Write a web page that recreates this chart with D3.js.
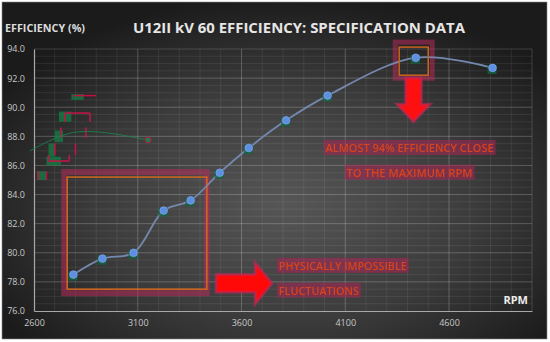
<!DOCTYPE html>
<html>
<head>
<meta charset="utf-8">
<script src="https://cdn.jsdelivr.net/npm/d3@7"></script>
<style>
  html, body { margin: 0; padding: 0; background: #fff; }
  #chart { width: 550px; height: 342px; }
  text { font-family: "Open Sans", "Liberation Sans", sans-serif; }
</style>
</head>
<body>
<div id="chart"></div>
<script>
// Specification data
const rpm = [2790, 2930, 3080, 3225, 3355, 3495, 3635, 3815, 4015, 4440, 4810];
const efficiency = [78.5, 79.6, 80.0, 82.9, 83.6, 85.5, 87.2, 89.1, 90.8, 93.4, 92.7];
const xTicks = [2600, 3100, 3600, 4100, 4600];
const yTicks = [76, 78, 80, 82, 84, 86, 88, 90, 92, 94];

// Annotation callouts (data units)
const noteLines = [
  { rpm: 4410, eff: 87.2, text: "ALMOST 94% EFFICIENCY CLOSE", len: 168 },
  { rpm: 4410, eff: 85.5, text: "TO THE MAXIMUM RPM", len: 126 }
];
const noteLines2 = [
  { rpm: 3780, eff: 79.1, text: "PHYSICALLY IMPOSSIBLE", len: 128 },
  { rpm: 3780, eff: 77.4, text: "FLUCTUATIONS", len: 80 }
];

const W = 550, H = 342;
const margin = { top: 49, right: 18, bottom: 31, left: 34 };
const width = W - margin.left - margin.right;
const height = H - margin.top - margin.bottom;

const svg = d3.select('#chart').append('svg')
  .attr('width', W).attr('height', H);

// Background panel
const defs = svg.append('defs');
const grad = defs.append('radialGradient').attr('id', 'bg')
  .attr('cx', '52%').attr('cy', '60%').attr('r', '62%');
grad.append('stop').attr('offset', '0%').attr('stop-color', '#565656');
grad.append('stop').attr('offset', '55%').attr('stop-color', '#3c3c3c');
grad.append('stop').attr('offset', '100%').attr('stop-color', '#1b1b1b');
const blur = defs.append('filter').attr('id', 'soft');
blur.append('feGaussianBlur').attr('stdDeviation', 0.6);

svg.append('rect').attr('x', 2).attr('y', 2).attr('width', 545).attr('height', 337)
  .attr('fill', 'url(#bg)').attr('stroke', '#8a8a8a').attr('stroke-width', 0.6);

const g = svg.append('g').attr('transform', `translate(${margin.left},${margin.top})`);

const x = d3.scaleLinear().domain([2600, 5000]).range([0, width]);
const y = d3.scaleLinear().domain([76, 94]).range([height, 0]);

// Minor grid
g.append('g').selectAll('line').data(d3.range(2700, 5000, 100))
  .join('line')
  .attr('x1', d => x(d)).attr('x2', d => x(d)).attr('y1', 0).attr('y2', height)
  .attr('stroke', '#ffffff').attr('stroke-opacity', 0.07);
g.append('g').selectAll('line').data(d3.range(76.5, 94, 0.5))
  .join('line')
  .attr('x1', 0).attr('x2', width).attr('y1', d => y(d)).attr('y2', d => y(d))
  .attr('stroke', '#ffffff').attr('stroke-opacity', 0.07);

// Major grid
g.append('g').selectAll('line').data(xTicks.slice(1).concat([5000]))
  .join('line')
  .attr('x1', d => x(d)).attr('x2', d => x(d)).attr('y1', 0).attr('y2', height)
  .attr('stroke', '#ffffff').attr('stroke-opacity', 0.16);
g.append('g').selectAll('line').data(yTicks.slice(1))
  .join('line')
  .attr('x1', 0).attr('x2', width).attr('y1', d => y(d)).attr('y2', d => y(d))
  .attr('stroke', '#ffffff').attr('stroke-opacity', 0.16);

// Axes
const xAxis = g.append('g').attr('transform', `translate(0,${height})`)
  .call(d3.axisBottom(x).tickValues(xTicks).tickSize(0).tickPadding(9).tickFormat(d3.format('d')));
const yAxis = g.append('g')
  .call(d3.axisLeft(y).tickValues(yTicks).tickSize(0).tickPadding(9).tickFormat(d3.format('.1f')));
[xAxis, yAxis].forEach(a => {
  a.select('.domain').attr('stroke', '#a8a8a8').attr('stroke-width', 1.2);
  a.selectAll('text').attr('fill', '#c8c8c8').attr('font-size', 9)
    .attr('font-family', '"Open Sans", sans-serif');
});

// Left scribble artefacts (green/red marks)
const scrib = g.append('g').attr('opacity', 0.8).attr('filter', 'url(#soft)');
const greenBlocks = [
  [2780, 2840, 90.9, 90.5], [2720, 2780, 89.7, 89.0], [2700, 2740, 88.4, 87.6],
  [2670, 2700, 87.5, 86.6], [2660, 2730, 86.6, 86.0], [2615, 2660, 85.6, 85.0]
];
scrib.selectAll('.gb').data(greenBlocks).join('rect').attr('class', 'gb')
  .attr('x', d => x(d[0])).attr('width', d => x(d[1]) - x(d[0]))
  .attr('y', d => y(d[2])).attr('height', d => y(d[3]) - y(d[2]))
  .attr('fill', '#127a45');
const redLines = [
  [2790, 2900, 90.8, 90.8], [2750, 2870, 89.6, 89.6], [2750, 2750, 89.6, 89.0],
  [2870, 2870, 89.6, 89.0], [2730, 2730, 88.6, 87.9], [2850, 2850, 88.6, 87.9],
  [2700, 2700, 87.5, 86.7], [2800, 2800, 87.5, 86.7], [2670, 2770, 86.3, 86.3],
  [2670, 2670, 86.7, 86.3], [2770, 2770, 86.7, 86.3], [2620, 2620, 85.6, 85.0],
  [2660, 2660, 85.6, 85.0]
];
scrib.selectAll('.rl').data(redLines).join('line').attr('class', 'rl')
  .attr('x1', d => x(d[0])).attr('x2', d => x(d[1]))
  .attr('y1', d => y(d[2])).attr('y2', d => y(d[3]))
  .attr('stroke', '#e0104a').attr('stroke-width', 1.6);
scrib.append('path')
  .attr('d', d3.line().curve(d3.curveBasis).x(d => x(d[0])).y(d => y(d[1]))(
    [[2580, 87.0], [2700, 87.9], [2800, 88.4], [2950, 88.3], [3150, 87.75]]))
  .attr('fill', 'none').attr('stroke', '#1a8a50').attr('stroke-width', 1);
scrib.append('circle').attr('cx', x(3150)).attr('cy', y(87.75)).attr('r', 3)
  .attr('fill', '#1a8a50').attr('stroke', '#d0104a');

// Red/orange box around low-rpm points
const box1 = { x0: 2760, x1: 3433, y0: 85.2, y1: 77.5 };
g.append('rect')
  .attr('x', x(box1.x0) - 3).attr('y', y(box1.y0) - 5)
  .attr('width', x(box1.x1) - x(box1.x0) + 3).attr('height', y(box1.y1) - y(box1.y0) + 9)
  .attr('fill', 'none').attr('stroke', '#c0285a').attr('stroke-opacity', 0.5)
  .attr('stroke-width', 6);
g.append('rect')
  .attr('x', x(box1.x0)).attr('y', y(box1.y0))
  .attr('width', x(box1.x1) - x(box1.x0)).attr('height', y(box1.y1) - y(box1.y0))
  .attr('fill', 'none').attr('stroke', '#d2691e').attr('stroke-width', 1.5);

// Box around peak
const box2 = { x0: 4360, x1: 4500, y0: 94.13, y1: 92.2 };
g.append('rect')
  .attr('x', x(box2.x0) - 4).attr('y', y(box2.y0) - 5)
  .attr('width', x(box2.x1) - x(box2.x0) + 8).attr('height', y(box2.y1) - y(box2.y0) + 8)
  .attr('fill', 'none').attr('stroke', '#c0285a').attr('stroke-opacity', 0.5)
  .attr('stroke-width', 5);

// Smoothed line
const pts = rpm.map((r, i) => ({ r, e: efficiency[i] }));
g.append('path').datum(pts)
  .attr('d', d3.line().curve(d3.curveCatmullRom.alpha(0.5)).x(d => x(d.r)).y(d => y(d.e)))
  .attr('fill', 'none').attr('stroke', '#7488ad').attr('stroke-width', 1.8);

// Green squares behind markers
g.selectAll('.sq').data(pts).join('rect').attr('class', 'sq')
  .attr('x', d => x(d.r) - 5).attr('y', d => y(d.e) - 3)
  .attr('width', 9).attr('height', 9)
  .attr('fill', '#0f6a40').attr('opacity', 0.75);

g.selectAll('.pt').data(pts).join('circle').attr('class', 'pt')
  .attr('cx', d => x(d.r)).attr('cy', d => y(d.e)).attr('r', 3.8)
  .attr('fill', '#5f8fe0').attr('stroke', '#7aa2ee').attr('stroke-width', 0.8);

g.append('rect')
  .attr('x', x(box2.x0)).attr('y', y(box2.y0))
  .attr('width', x(box2.x1) - x(box2.x0)).attr('height', y(box2.y1) - y(box2.y0))
  .attr('fill', 'none').attr('stroke', '#c8651e').attr('stroke-width', 1.5);

// Arrows
const arrowDown = { x0: 4350, x1: 4508, y0: 92.0, y1: 89.0 };
{
  const ax0 = x(arrowDown.x0), ax1 = x(arrowDown.x1), ay0 = y(arrowDown.y0), ay1 = y(arrowDown.y1);
  const cx = (ax0 + ax1) / 2, sw = (ax1 - ax0) * 0.24, hy = ay0 + (ay1 - ay0) * 0.6;
  g.append('path')
    .attr('d', `M${cx - sw},${ay0} L${cx + sw},${ay0} L${cx + sw},${hy} L${ax1},${hy} L${cx},${ay1} L${ax0},${hy} L${cx - sw},${hy} Z`)
    .attr('fill', '#ff1010').attr('stroke', '#c0285a').attr('stroke-opacity', 0.6).attr('stroke-width', 3);
}
const arrowRight = { x0: 3478, x1: 3747, y0: 79.3, y1: 76.5 };
{
  const ax0 = x(arrowRight.x0), ax1 = x(arrowRight.x1), ay0 = y(arrowRight.y0), ay1 = y(arrowRight.y1);
  const cy = (ay0 + ay1) / 2, sh = (ay1 - ay0) * 0.22, hx = ax0 + (ax1 - ax0) * 0.7;
  g.append('path')
    .attr('d', `M${ax0},${cy - sh} L${hx},${cy - sh} L${hx},${ay0} L${ax1},${cy} L${hx},${ay1} L${hx},${cy + sh} L${ax0},${cy + sh} Z`)
    .attr('fill', '#ff0808').attr('stroke', '#c0285a').attr('stroke-opacity', 0.6).attr('stroke-width', 3);
}

// Annotation text
function notes(data, anchor) {
  const grp = g.append('g').attr('filter', 'url(#soft)');
  grp.selectAll('rect').data(data).join('rect')
    .attr('x', d => anchor === 'middle' ? x(d.rpm) - d.len / 2 - 2 : x(d.rpm) - 2)
    .attr('y', d => y(d.eff) - 8).attr('width', d => d.len + 4).attr('height', 15)
    .attr('fill', '#a02552').attr('opacity', 0.6);
  grp.selectAll('text').data(data).join('text')
    .attr('x', d => x(d.rpm)).attr('y', d => y(d.eff) + 4)
    .attr('text-anchor', anchor)
    .attr('font-size', 11).attr('font-weight', 600)
    .attr('textLength', d => d.len).attr('lengthAdjust', 'spacingAndGlyphs')
    .attr('fill', '#d8441c')
    .text(d => d.text);
}
notes(noteLines, 'middle');
notes(noteLines2, 'start');

// Titles
svg.append('text').attr('x', 299).attr('y', 33).attr('text-anchor', 'middle')
  .attr('font-size', 15).attr('font-weight', 700).attr('fill', '#e6e6e6')
  .attr('textLength', 332).attr('lengthAdjust', 'spacingAndGlyphs')
  .text('U12II kV 60 EFFICIENCY: SPECIFICATION DATA');
svg.append('text').attr('x', 5).attr('y', 32)
  .attr('font-size', 11).attr('font-weight', 700).attr('fill', '#dcdcdc')
  .attr('textLength', 80).attr('lengthAdjust', 'spacingAndGlyphs')
  .text('EFFICIENCY (%)');
svg.append('text').attr('x', 528).attr('y', 304).attr('text-anchor', 'end')
  .attr('font-size', 11).attr('font-weight', 700).attr('fill', '#ececec')
  .text('RPM');
</script>
</body>
</html>
